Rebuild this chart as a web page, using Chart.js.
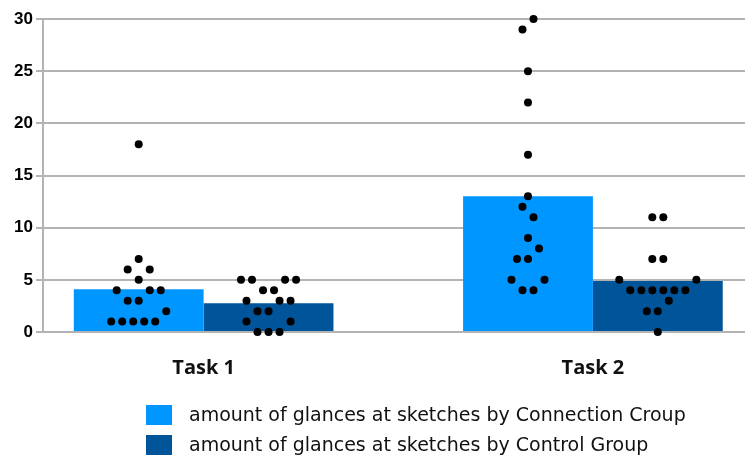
<!DOCTYPE html>
<html>
<head>
<meta charset="utf-8">
<script src="https://cdn.jsdelivr.net/npm/chart.js@4.4.1/dist/chart.umd.min.js"></script>
<style>
html,body{margin:0;padding:0;background:#fff;}
#wrap{width:749px;height:457px;position:relative;}
</style>
</head>
<body>
<div id="wrap"><canvas id="c" width="749" height="457"></canvas></div>
<script>
// ---- data ----
const categories = ['Task 1', 'Task 2'];
const seriesLabels = [
  'amount of glances at sketches by Connection Croup',
  'amount of glances at sketches by Control Group'
];
const connectionMeans = [4.1, 13];
const controlMeans = [2.75, 4.9];
const yTickStep = 5;

// individual observations per group
const connectionTask1 = [18, 7, 6, 6, 5, 4, 4, 4, 3, 3, 2, 1, 1, 1, 1, 1];
const controlTask1    = [5, 5, 5, 5, 4, 4, 3, 3, 3, 2, 2, 1, 1, 0, 0, 0];
const connectionTask2 = [30, 29, 25, 22, 17, 13, 12, 11, 9, 8, 7, 7, 5, 5, 4, 4];
const controlTask2    = [11, 11, 7, 7, 5, 5, 4, 4, 4, 4, 4, 4, 3, 2, 2, 0];

// horizontal swarm placement of the dots (in dot steps) - layout only
const swarmConnectionTask1 = [0, 0, -1, 1, 0, -2, 1, 2, -1, 0, 2.5, -2.5, -1.5, -0.5, 0.5, 1.5];
const swarmControlTask1    = [-2.5, -1.5, 1.5, 2.5, -0.5, 0.5, -2, 1, 2, -1, 0, -2, 2, -1, 0, 1];
const swarmConnectionTask2 = [0.5, -0.5, 0, 0, 0, 0, -0.5, 0.5, 0, 1, -1, 0, -1.5, 1.5, -0.5, 0.5];
const swarmControlTask2    = [-0.5, 0.5, -0.5, 0.5, -3.5, 3.5, -2.5, -1.5, -0.5, 0.5, 1.5, 2.5, 1, -1, 0, 0];

// ---- styling / layout ----
const CAT_PCT = 0.667;
const DOT_STEP = 0.0283;
const COLOR_CONNECTION = '#0096ff';
const COLOR_CONTROL = '#00559a';
const GRID = '#b3b3b3';

function swarm(values, offsets, catIndex, groupIndex) {
  const groupOffset = (groupIndex === 0 ? -1 : 1) * CAT_PCT / 4;
  return values.map((v, i) => ({ x: catIndex + groupOffset + offsets[i] * DOT_STEP, y: v }));
}

const dotStyle = {
  type: 'scatter', showLine: false, pointRadius: 4, pointHoverRadius: 4,
  backgroundColor: '#000', borderWidth: 0, order: 0, clip: false
};

const legendPlugin = {
  id: 'customLegend',
  afterDraw(chart) {
    const ctx = chart.ctx;
    const bars = chart.data.datasets.filter(d => d.type === 'bar');
    ctx.save();
    ctx.font = '19px "DejaVu Sans"';
    ctx.textBaseline = 'middle';
    ctx.textAlign = 'left';
    bars.forEach((d, i) => {
      const y = 405 + i * 30;
      ctx.fillStyle = d.backgroundColor;
      ctx.fillRect(146, y, 26, 20);
      ctx.fillStyle = '#111';
      ctx.fillText(d.label, 189, y + 11);
    });
    ctx.restore();
  }
};

new Chart(document.getElementById('c'), {
  type: 'bar',
  data: {
    datasets: [
      Object.assign({ label: 'dots1', data: swarm(connectionTask1, swarmConnectionTask1, 0, 0).concat(swarm(connectionTask2, swarmConnectionTask2, 1, 0)) }, dotStyle),
      Object.assign({ label: 'dots2', data: swarm(controlTask1, swarmControlTask1, 0, 1).concat(swarm(controlTask2, swarmControlTask2, 1, 1)) }, dotStyle),
      {
        type: 'bar', label: seriesLabels[0],
        data: categories.map((c, i) => ({ x: i, y: connectionMeans[i] })),
        backgroundColor: COLOR_CONNECTION, order: 1,
        categoryPercentage: CAT_PCT, barPercentage: 1, borderWidth: 0
      },
      {
        type: 'bar', label: seriesLabels[1],
        data: categories.map((c, i) => ({ x: i, y: controlMeans[i] })),
        backgroundColor: COLOR_CONTROL, order: 1,
        categoryPercentage: CAT_PCT, barPercentage: 1, borderWidth: 0
      }
    ]
  },
  options: {
    responsive: false,
    animation: false,
    layout: { padding: { top: 19, right: 0, bottom: 0, left: 0 } },
    plugins: { legend: { display: false }, tooltip: { enabled: false } },
    scales: {
      x: {
        type: 'linear', min: -0.4126, max: 1.3907, offset: false,
        grid: { display: false, drawTicks: false, offset: false },
        border: { display: false },
        ticks: {
          stepSize: 1, includeBounds: false, autoSkip: false, maxRotation: 0,
          callback: v => (Number.isInteger(v) && categories[v]) ? categories[v] : '',
          font: { family: 'Open Sans', weight: 'bold', size: 20 },
          color: '#111', padding: 24
        },
        afterFit(s) { s.height = 125; }
      },
      y: {
        min: 0, max: 30,
        ticks: {
          stepSize: yTickStep,
          font: { family: 'Liberation Sans', weight: 'bold', size: 17 },
          color: '#000', padding: 3
        },
        grid: { color: GRID, lineWidth: 2, tickLength: 7 },
        border: { color: GRID, width: 2 },
        afterFit(s) { s.width = 43; }
      }
    }
  },
  plugins: [legendPlugin]
});
</script>
</body>
</html>
